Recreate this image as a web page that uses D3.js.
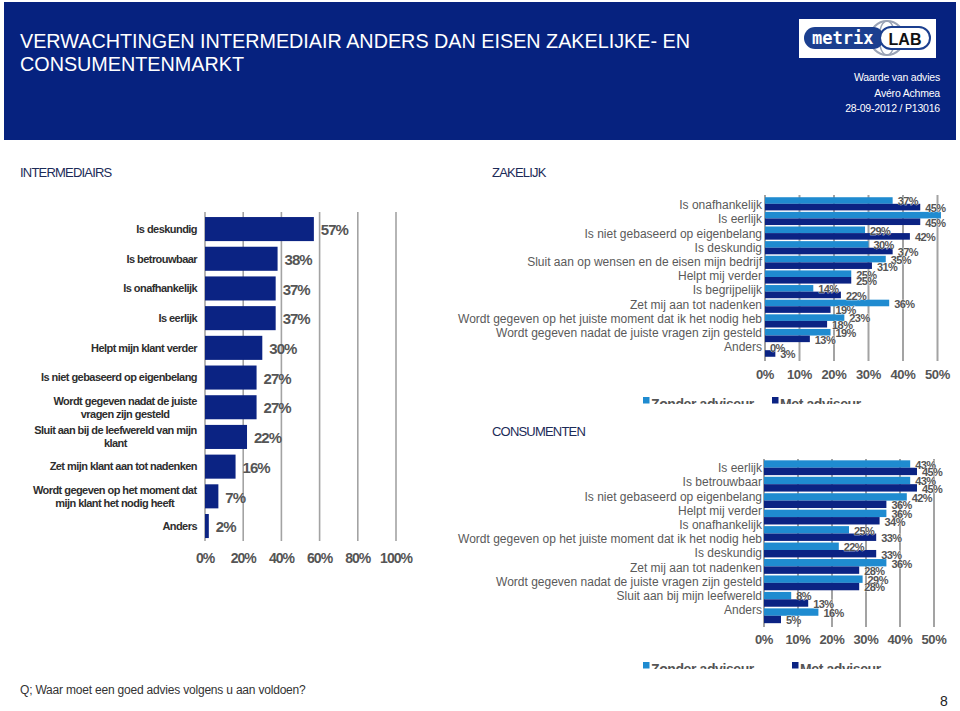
<!DOCTYPE html>
<html><head><meta charset="utf-8">
<script src="https://cdn.jsdelivr.net/npm/d3@7"></script>
<style>body{margin:0;background:#fff}svg{display:block;font-family:Arial,"Liberation Sans",sans-serif}</style>
</head><body><svg id="c" width="960" height="711"></svg>
<script>
// ---------- data ----------
const titleLines = ["VERWACHTINGEN INTERMEDIAIR ANDERS DAN EISEN ZAKELIJKE- EN", "CONSUMENTENMARKT"];
const metaLines = ["Waarde van advies", "Avéro Achmea", "28-09-2012 / P13016"];
const sectionTitles = ["INTERMEDIAIRS", "ZAKELIJK", "CONSUMENTEN"];
const footnote = "Q; Waar moet een goed advies volgens u aan voldoen?";
const pageNumber = "8";

const interCategories = ["Is deskundig", "Is betrouwbaar", "Is onafhankelijk", "Is eerlijk", "Helpt mijn klant verder",
  "Is niet gebaseerd op eigenbelang", "Wordt gegeven nadat de juiste\nvragen zijn gesteld",
  "Sluit aan bij de leefwereld van mijn\nklant", "Zet mijn klant aan tot nadenken",
  "Wordt gegeven op het moment dat\nmijn klant het nodig heeft", "Anders"];
const interValues = [57, 38, 37, 37, 30, 27, 27, 22, 16, 7, 2];
const interTicks = [0, 20, 40, 60, 80, 100];

const zakCategories = ["Is onafhankelijk", "Is eerlijk", "Is niet gebaseerd op eigenbelang", "Is deskundig",
  "Sluit aan op wensen en de eisen mijn bedrijf", "Helpt mij verder", "Is begrijpelijk", "Zet mij aan tot nadenken",
  "Wordt gegeven op het juiste moment dat ik het nodig heb", "Wordt gegeven nadat de juiste vragen zijn gesteld", "Anders"];
const zakZonder = [37, 51, 29, 30, 35, 25, 14, 36, 23, 19, 0];
const zakMet = [45, 45, 42, 37, 31, 25, 22, 19, 18, 13, 3];

const consCategories = ["Is eerlijk", "Is betrouwbaar", "Is niet gebaseerd op eigenbelang", "Helpt mij verder",
  "Is onafhankelijk", "Wordt gegeven op het juiste moment dat ik het nodig heb", "Is deskundig",
  "Zet mij aan tot nadenken", "Wordt gegeven nadat de juiste vragen zijn gesteld", "Sluit aan bij mijn leefwereld", "Anders"];
const consZonder = [43, 43, 42, 36, 25, 22, 36, 29, 8, 16];
const consMet = [45, 45, 36, 34, 33, 33, 28, 28, 13, 5];

const rightTicks = [0, 10, 20, 30, 40, 50];
const seriesNames = ["Zonder adviseur", "Met adviseur"];

// ---------- styles ----------
const NAVY = "#06227f";
const BAR_DARK = "#0b2383";
const BAR_LIGHT = "#1f8bd0";
const GRID = "#a3a3a3";
const VAL = "#555555";

const svg = d3.select("#c");
const defs = svg.append("defs");

// ---------- header ----------
svg.append("rect").attr("x", 4).attr("y", 2).attr("width", 952).attr("height", 138).attr("fill", NAVY);
const tl = [[20, 48, 670], [20, 71, 224]];
titleLines.forEach((t, i) => {
  svg.append("text").attr("x", tl[i][0]).attr("y", tl[i][1]).attr("fill", "#fff")
    .attr("font-size", 19.5).attr("textLength", tl[i][2]).attr("lengthAdjust", "spacingAndGlyphs").text(t);
});
metaLines.forEach((t, i) => {
  svg.append("text").attr("x", 940).attr("y", 81 + i * 15.5).attr("fill", "#fff")
    .attr("font-size", 10.5).attr("text-anchor", "end").attr("letter-spacing", -0.2).text(t);
});
// logo
const logo = svg.append("g");
logo.append("rect").attr("x", 799).attr("y", 19).attr("width", 137).attr("height", 39).attr("fill", "#fff");
logo.append("circle").attr("cx", 887).attr("cy", 38).attr("r", 17).attr("fill", "none").attr("stroke", "#9aa3b5").attr("stroke-width", 2);
logo.append("ellipse").attr("cx", 887).attr("cy", 38).attr("rx", 8).attr("ry", 17).attr("fill", "none").attr("stroke", "#9aa3b5").attr("stroke-width", 1.5);
logo.append("line").attr("x1", 870).attr("x2", 904).attr("y1", 38).attr("y2", 38).attr("stroke", "#9aa3b5").attr("stroke-width", 1.5);
logo.append("rect").attr("x", 804).attr("y", 27).attr("width", 80).attr("height", 22).attr("rx", 11).attr("fill", "#1b3f8f");
logo.append("rect").attr("x", 880).attr("y", 27).attr("width", 50).attr("height", 22).attr("rx", 11).attr("fill", "#fff").attr("stroke", "#1b3f8f").attr("stroke-width", 2);
logo.append("text").attr("x", 812).attr("y", 44).attr("fill", "#fff").attr("font-family", "DejaVu Sans Mono, monospace")
  .attr("font-size", 17).attr("font-weight", "bold").text("metrix");
logo.append("text").attr("x", 905).attr("y", 44.5).attr("fill", "#111").attr("text-anchor", "middle")
  .attr("font-size", 16).attr("font-weight", "bold").text("LAB");

// section headers
[[20, 177, sectionTitles[0]], [492, 177, sectionTitles[1]], [492, 436, sectionTitles[2]]].forEach(([x, y, t]) => {
  svg.append("text").attr("x", x).attr("y", y).attr("fill", "#1c2b58").attr("font-size", 13)
    .attr("letter-spacing", -0.8).text(t);
});

// footer
svg.append("text").attr("x", 20).attr("y", 694).attr("fill", "#333").attr("font-size", 12).attr("letter-spacing", -0.2).text(footnote);
svg.append("text").attr("x", 944).attr("y", 706).attr("fill", "#222").attr("font-size", 14).attr("text-anchor", "middle").text(pageNumber);

// ---------- left chart: INTERMEDIAIRS ----------
(function () {
  const x = d3.scaleLinear().domain([0, 100]).range([205, 396]);
  const y = d3.scaleBand().domain(interCategories).range([211.4, 543.7]).paddingInner(0.19).paddingOuter(0.19);
  const g = svg.append("g");
  g.selectAll("line.grid").data(interTicks).join("line")
    .attr("x1", d => x(d)).attr("x2", d => x(d)).attr("y1", 212).attr("y2", 541)
    .attr("stroke", GRID).attr("stroke-width", 1.6);
  g.selectAll("rect.bar").data(interValues).join("rect")
    .attr("x", x(0)).attr("y", (d, i) => y(interCategories[i]))
    .attr("width", d => x(d) - x(0)).attr("height", y.bandwidth()).attr("fill", BAR_DARK);
  g.selectAll("text.val").data(interValues).join("text")
    .attr("x", d => x(d) + 7).attr("y", (d, i) => y(interCategories[i]) + y.bandwidth() / 2 + 1)
    .attr("dy", "0.35em").attr("fill", VAL).attr("font-size", 15).attr("font-weight", "bold")
    .attr("letter-spacing", -1).text(d => d + "%");
  // category labels
  interCategories.forEach(c => {
    const lines = c.split("\n");
    const cy = y(c) + y.bandwidth() / 2;
    const t = g.append("text").attr("fill", "#2e2e2e").attr("font-size", 11).attr("font-weight", "bold")
      .attr("letter-spacing", -0.55);
    lines.forEach((l, k) => {
      t.append("tspan").attr("x", 0).attr("y", cy + (k - (lines.length - 1) / 2) * 13).attr("dy", "0.35em").text(l);
    });
    const w = t.node().getBBox().width;
    if (lines.length === 1) {
      t.attr("text-anchor", "end").selectAll("tspan").attr("x", 197);
    } else {
      t.attr("text-anchor", "middle").selectAll("tspan").attr("x", 197 - w / 2);
    }
  });
  g.selectAll("text.tick").data(interTicks).join("text")
    .attr("x", d => x(d)).attr("y", 558).attr("dy", "0.35em").attr("text-anchor", "middle")
    .attr("fill", VAL).attr("font-size", 14).attr("font-weight", "bold").attr("letter-spacing", -1)
    .text(d => d + "%");
})();

// ---------- right charts ----------
function pairedChart(o) {
  const g = svg.append("g");
  const x = d3.scaleLinear().domain([0, 50]).range([o.x0, o.x50]);
  const idx = d3.range(o.zonder.length);
  const y = d3.scaleBand().domain(idx).range([o.barTop, o.barBottom]).paddingInner(0.1).paddingOuter(0.05);
  const sub = d3.scaleBand().domain([0, 1]).range([0, y.bandwidth()]);
  const ly = d3.scalePoint().domain(o.cats).range([o.labelTop, o.labelBottom]);
  const color = d3.scaleOrdinal().domain([0, 1]).range([BAR_LIGHT, BAR_DARK]);

  g.selectAll("line.grid").data(rightTicks).join("line")
    .attr("x1", d => x(d)).attr("x2", d => x(d)).attr("y1", o.gridTop).attr("y2", o.gridBottom)
    .attr("stroke", GRID).attr("stroke-width", 2);

  const rows = [];
  idx.forEach(i => { rows.push({ i, s: 0, v: o.zonder[i] }); rows.push({ i, s: 1, v: o.met[i] }); });
  g.selectAll("rect.bar").data(rows).join("rect")
    .attr("x", x(0)).attr("y", d => y(d.i) + sub(d.s))
    .attr("width", d => x(d.v) - x(0)).attr("height", sub.bandwidth()).attr("fill", d => color(d.s));

  g.selectAll("text.val").data(rows.filter(d => x(d.v) + 28 < 960)).join("text")
    .attr("x", d => x(d.v) + 5).attr("y", d => y(d.i) + sub(d.s) + sub.bandwidth() / 2 + 1)
    .attr("dy", "0.35em").attr("fill", VAL).attr("font-size", 11).attr("font-weight", "bold")
    .attr("letter-spacing", -0.6).attr("stroke", "#fff").attr("stroke-width", 0.6).attr("paint-order", "stroke")
    .text(d => d.v + "%");

  g.selectAll("text.cat").data(o.cats).join("text")
    .attr("x", o.labelX).attr("y", d => ly(d)).attr("dy", "0.35em").attr("text-anchor", "end")
    .attr("fill", "#5a5a5a").attr("font-size", 12).text(d => d);

  g.selectAll("text.tick").data(rightTicks).join("text")
    .attr("x", d => x(d)).attr("y", o.tickY).attr("dy", "0.35em").attr("text-anchor", "middle")
    .attr("fill", VAL).attr("font-size", 13).attr("font-weight", "bold").attr("letter-spacing", -0.3)
    .text(d => d + "%");

  // legend (cut off at the bottom as in the reference)
  const cid = "clip" + o.id;
  defs.append("clipPath").attr("id", cid).append("rect")
    .attr("x", 600).attr("y", o.legendY - 12).attr("width", 360).attr("height", 12 + o.legendClip);
  const lg = g.append("g").attr("clip-path", `url(#${cid})`);
  seriesNames.forEach((n, k) => {
    const lx = o.legendX[k];
    lg.append("rect").attr("x", lx).attr("y", o.legendY - 3).attr("width", 6.5).attr("height", 6.5).attr("fill", color(k));
    lg.append("text").attr("x", lx + 8).attr("y", o.legendY + 9).attr("fill", VAL).attr("font-size", 14)
      .attr("font-weight", "bold").attr("letter-spacing", -0.4).text(n);
  });
}

pairedChart({ id: "zak", cats: zakCategories, zonder: zakZonder, met: zakMet,
  x0: 765, x50: 937.5, barTop: 196.5, barBottom: 357.5, labelTop: 205, labelBottom: 347, labelX: 762,
  gridTop: 195, gridBottom: 361, tickY: 374, legendX: [643, 772], legendY: 400, legendClip: 4 });

pairedChart({ id: "cons", cats: consCategories, zonder: consZonder, met: consMet,
  x0: 764, x50: 934, barTop: 459.5, barBottom: 624, labelTop: 468, labelBottom: 610, labelX: 762,
  gridTop: 459, gridBottom: 627, tickY: 639, legendX: [643, 792], legendY: 665, legendClip: 4 });
</script>
</body></html>
